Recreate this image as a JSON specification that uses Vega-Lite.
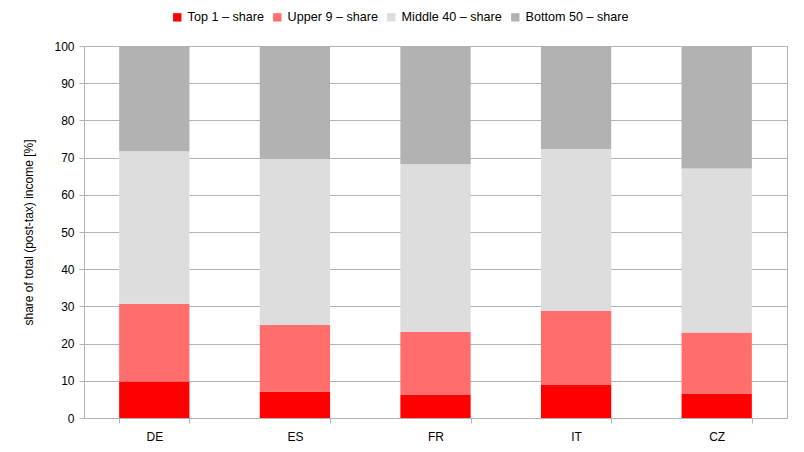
{
  "$schema": "https://vega.github.io/schema/vega-lite/v6.json",
  "width": 703,
  "height": 372,
  "autosize": {"type": "none"},
  "padding": {"left": 84, "top": 46, "right": 17, "bottom": 34},
  "background": "white",
  "config": {
    "font": "Liberation Sans",
    "view": {"stroke": "#b3b3b3", "strokeWidth": 1},
    "axis": {
      "labelFont": "Liberation Sans",
      "titleFont": "Liberation Sans",
      "labelColor": "#000000",
      "titleColor": "#000000",
      "labelFontSize": 12,
      "titleFontSize": 12,
      "titleFontWeight": "normal",
      "domainColor": "#b3b3b3",
      "tickColor": "#b3b3b3",
      "gridColor": "#b3b3b3"
    },
    "legend": {
      "labelFont": "Liberation Sans",
      "labelFontSize": 12.6,
      "labelColor": "#000000"
    }
  },
  "data": {
    "values": [
      {"country": "DE", "group": "Top 1 – share", "rank": 1, "value": 9.8},
      {"country": "DE", "group": "Upper 9 – share", "rank": 2, "value": 20.9},
      {"country": "DE", "group": "Middle 40 – share", "rank": 3, "value": 41.0},
      {"country": "DE", "group": "Bottom 50 – share", "rank": 4, "value": 28.3},
      {"country": "ES", "group": "Top 1 – share", "rank": 1, "value": 7.1},
      {"country": "ES", "group": "Upper 9 – share", "rank": 2, "value": 18.0},
      {"country": "ES", "group": "Middle 40 – share", "rank": 3, "value": 44.6},
      {"country": "ES", "group": "Bottom 50 – share", "rank": 4, "value": 30.3},
      {"country": "FR", "group": "Top 1 – share", "rank": 1, "value": 6.3},
      {"country": "FR", "group": "Upper 9 – share", "rank": 2, "value": 16.9},
      {"country": "FR", "group": "Middle 40 – share", "rank": 3, "value": 45.0},
      {"country": "FR", "group": "Bottom 50 – share", "rank": 4, "value": 31.8},
      {"country": "IT", "group": "Top 1 – share", "rank": 1, "value": 9.0},
      {"country": "IT", "group": "Upper 9 – share", "rank": 2, "value": 19.8},
      {"country": "IT", "group": "Middle 40 – share", "rank": 3, "value": 43.5},
      {"country": "IT", "group": "Bottom 50 – share", "rank": 4, "value": 27.7},
      {"country": "CZ", "group": "Top 1 – share", "rank": 1, "value": 6.6},
      {"country": "CZ", "group": "Upper 9 – share", "rank": 2, "value": 16.4},
      {"country": "CZ", "group": "Middle 40 – share", "rank": 3, "value": 44.1},
      {"country": "CZ", "group": "Bottom 50 – share", "rank": 4, "value": 32.9}
    ]
  },
  "mark": {"type": "bar"},
  "encoding": {
    "x": {
      "field": "country",
      "type": "nominal",
      "sort": ["DE", "ES", "FR", "IT", "CZ"],
      "scale": {"paddingInner": 0.5, "paddingOuter": 0.25},
      "axis": {
        "title": null,
        "labelAngle": 0,
        "tickBand": "extent",
        "tickSize": 5,
        "labelPadding": 8,
        "grid": false
      }
    },
    "y": {
      "field": "value",
      "type": "quantitative",
      "stack": "zero",
      "scale": {"domain": [0, 100], "nice": false},
      "axis": {
        "title": "share of total (post-tax) income [%]",
        "values": [0, 10, 20, 30, 40, 50, 60, 70, 80, 90, 100],
        "tickSize": 5,
        "labelPadding": 5,
        "titlePadding": 18,
        "grid": true
      }
    },
    "color": {
      "field": "group",
      "type": "nominal",
      "scale": {
        "domain": ["Top 1 – share", "Upper 9 – share", "Middle 40 – share", "Bottom 50 – share"],
        "range": ["#ff0000", "#ff6d6d", "#dddddd", "#b2b2b2"]
      },
      "legend": {
        "title": null,
        "orient": "none",
        "direction": "horizontal",
        "legendX": 87,
        "legendY": -35,
        "symbolType": "square",
        "symbolSize": 70,
        "symbolStrokeWidth": 0,
        "columnPadding": 7,
        "labelOffset": 4
      }
    },
    "order": {"field": "rank", "type": "quantitative", "sort": "ascending"}
  }
}
